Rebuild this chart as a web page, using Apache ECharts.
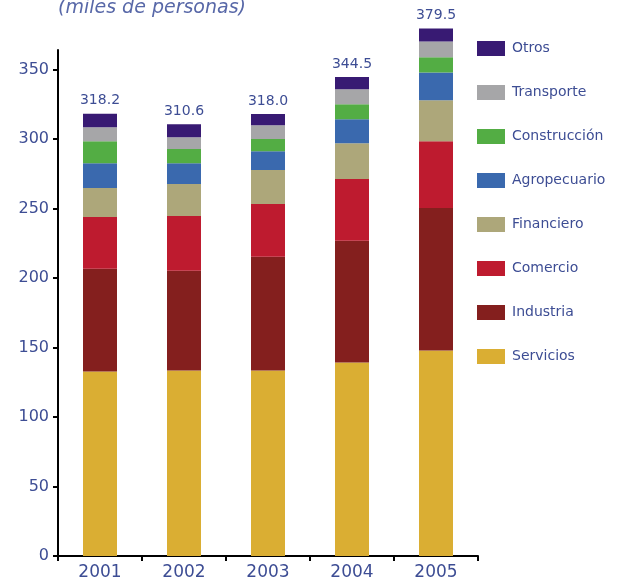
<!DOCTYPE html>
<html><head><meta charset="utf-8">
<script src="https://cdn.jsdelivr.net/npm/echarts@6/dist/echarts.min.js"></script>
<style>html,body{margin:0;padding:0;background:#fff}#c{width:622px;height:581px}</style>
</head><body><div id="c"></div>
<script>
var years = ['2001','2002','2003','2004','2005'];
var servicios    = [132.7, 133.4, 133.4, 139.2, 147.8];
var industria    = [73.9, 71.8, 81.8, 87.5, 102.6];
var comercio     = [37.3, 39.4, 38.0, 44.5, 48.0];
var financiero   = [20.8, 23.0, 24.4, 25.8, 29.4];
var agropecuario = [17.9, 15.0, 13.6, 17.2, 20.1];
var construccion = [15.8, 10.1, 8.7, 10.8, 10.8];
var transporte   = [10.1, 8.6, 10.0, 10.7, 11.5];
var otros        = [9.7, 9.3, 8.1, 8.8, 9.3];
var totals       = ['318.2', '310.6', '318.0', '344.5', '379.5'];
var yTicks = [0, 50, 100, 150, 200, 250, 300, 350];

var txt = '#3d4d94';
var font = 'DejaVu Sans';
function s(name, data, color) {
  return {name: name, type: 'bar', stack: 't', data: data, barWidth: 34, clip: false,
    itemStyle: {color: color}};
}
var series = [
  s('Servicios', servicios, '#DAAE33'),
  s('Industria', industria, '#841F1E'),
  s('Comercio', comercio, '#BE1B2F'),
  s('Financiero', financiero, '#ADA77A'),
  s('Agropecuario', agropecuario, '#3A69AE'),
  s('Construcción', construccion, '#53AD44'),
  s('Transporte', transporte, '#A6A6A8'),
  s('Otros', otros, '#381A73')
];
series[7].label = {show: true, position: 'top', distance: 6, color: txt, fontFamily: font, fontSize: 14,
  formatter: function (p) { return totals[p.dataIndex]; }};

var chart = echarts.init(document.getElementById('c'), null, {renderer: 'canvas'});
chart.setOption({
  animation: false,
  textStyle: {fontFamily: font},
  title: {text: '(miles de personas)', left: 58, top: -1, padding: 0,
    textStyle: {fontStyle: 'italic', fontWeight: 'normal', color: '#5868a8', fontSize: 19, fontFamily: font}},
  legend: {orient: 'vertical', left: 477, top: 41, padding: 0, itemWidth: 28, itemHeight: 15, itemGap: 29,
    data: ['Otros','Transporte','Construcción','Agropecuario','Financiero','Comercio','Industria','Servicios'],
    icon: 'rect',
    textStyle: {color: txt, fontSize: 14, fontFamily: font, padding: [0,0,0,2]}},
  grid: {left: 58, right: 144, top: 50, bottom: 24, containLabel: false},
  xAxis: {type: 'category', data: years,
    axisLine: {lineStyle: {color: '#000', width: 2}},
    axisTick: {show: true, alignWithLabel: false, length: 5, lineStyle: {color: '#000', width: 2}},
    axisLabel: {color: txt, fontSize: 17, fontFamily: font, margin: 8}},
  yAxis: {type: 'value', min: 0, max: 364,
    splitLine: {show: false},
    axisLine: {show: true, lineStyle: {color: '#000', width: 2}},
    axisTick: {show: true, length: 5, lineStyle: {color: '#000', width: 2}, customValues: yTicks},
    axisLabel: {color: txt, fontSize: 16, fontFamily: font, margin: 9, customValues: yTicks}},
  series: series
});
</script></body></html>
